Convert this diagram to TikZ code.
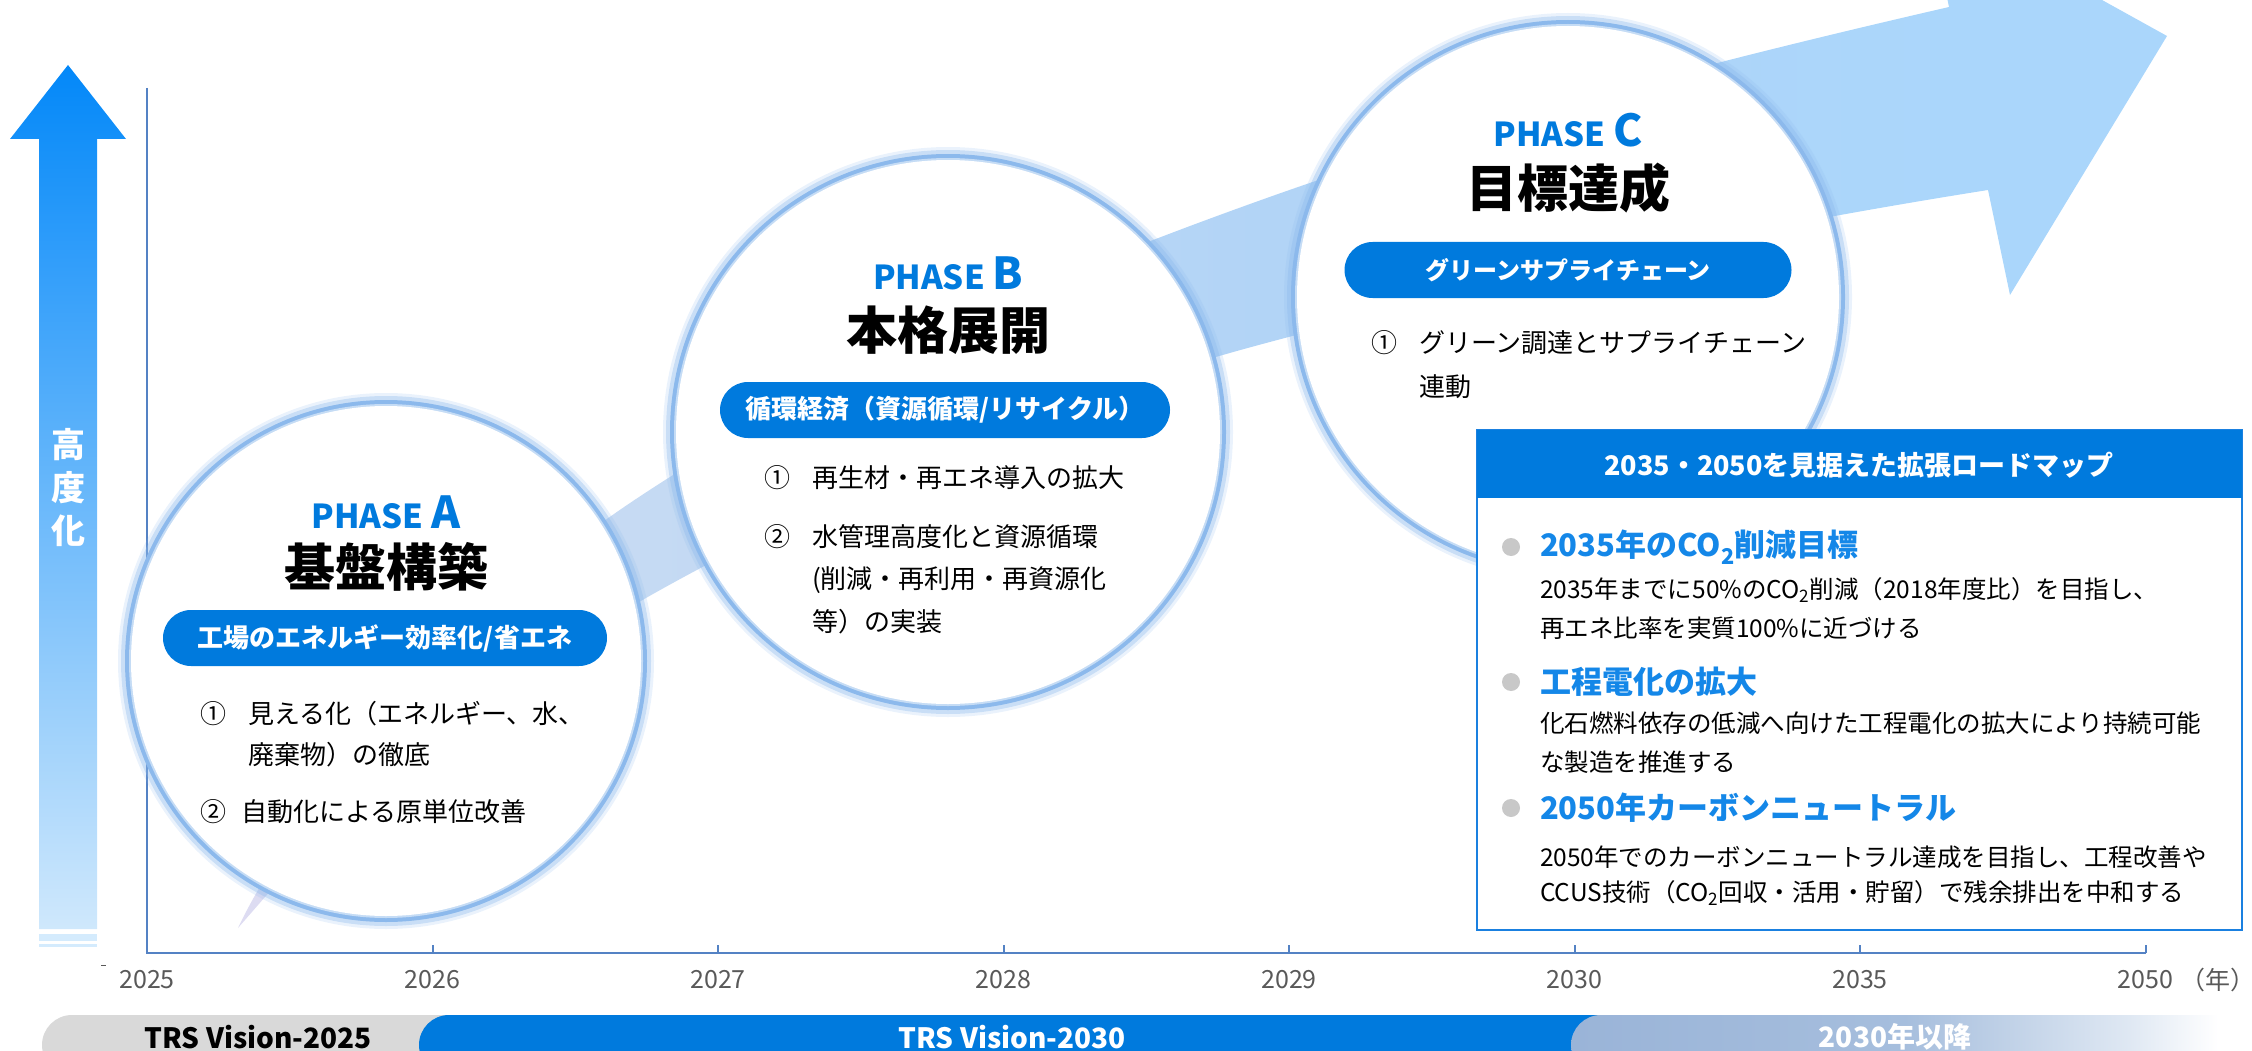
\documentclass[tikz,border=0pt]{standalone}
\usepackage{fontspec}
\setmainfont{Noto Sans CJK JP}
\newcommand\myfs[1]{\fontsize{#1}{#1}\selectfont}
\definecolor{mainblue}{RGB}{0,122,221}
\definecolor{headblue}{RGB}{20,135,232}
\definecolor{boxblue}{RGB}{26,128,224}
\definecolor{ringc}{RGB}{140,185,236}
\definecolor{axisc}{RGB}{84,130,196}
\definecolor{yeargray}{RGB}{89,89,89}
\definecolor{bs1}{RGB}{222,220,242}
\definecolor{bs2}{RGB}{198,218,243}
\definecolor{bs3}{RGB}{178,212,246}
\definecolor{bs4}{RGB}{170,214,251}
\definecolor{arrTop}{RGB}{3,136,249}
\definecolor{arrBot}{RGB}{207,232,252}
\definecolor{stripec}{RGB}{212,235,253}
\definecolor{barGray}{RGB}{217,217,217}
\definecolor{bulletgray}{RGB}{200,200,200}
\definecolor{fb1}{RGB}{154,180,216}
\definecolor{fb2}{RGB}{166,190,221}
\definecolor{fb3}{RGB}{223,232,243}
\pgfdeclarehorizontalshading{fadebar}{100bp}{color(0bp)=(fb1); color(25bp)=(fb1); color(49.5bp)=(fb2); color(66bp)=(fb3); color(72.5bp)=(white); color(100bp)=(white)}
\pgfdeclarehorizontalshading{bandshade}{100bp}{color(0bp)=(bs1); color(25bp)=(bs1); color(35bp)=(bs2); color(51.5bp)=(bs3); color(70bp)=(bs4); color(100bp)=(bs4)}
\newcommand\phasecircle[4]{%
  \fill[ringc, opacity=0.18] (#2,#3) circle[radius=#4pt+4pt];
  \fill[ringc, opacity=0.35] (#2,#3) circle[radius=#4pt+1pt];
  \fill[ringc] (#2,#3) circle[radius=#4pt-3pt];
  \fill[white, opacity=0.5] (#2,#3) circle[radius=#4pt-7pt];
  \fill[white] (#2,#3) circle[radius=#4pt-9pt];
  \coordinate (#1) at (#2,#3);
}
\tikzset{
  every node/.style={inner sep=0pt, outer sep=0pt},
  yearlbl/.style={text=yeargray, font=\myfs{25}},
  phaselbl/.style={text=mainblue, font=\bfseries\myfs{33}, anchor=base},
  titlelbl/.style={font=\bfseries\myfs{51}},
  pill/.style={fill=mainblue, rounded corners=28pt, minimum height=56pt, text=white, font=\bfseries\myfs{26}},
  item/.style={font=\myfs{26}, anchor=west},
  boxhead/.style={text=headblue, font=\bfseries\myfs{31}, anchor=west},
  boxbody/.style={font=\myfs{24.5}, anchor=west},
  barlbl/.style={font=\bfseries\myfs{28}},
}
\begin{document}
\begin{tikzpicture}[x=1pt,y=-1pt]
\useasboundingbox (0,0) rectangle (2252,1051);

% big rising band arrow
\shade[shading=bandshade]
  (238,928) .. controls (290,818) and (439,629) .. (639,497)
  .. controls (839,365) and (1050,276) .. (1250,204)
  .. controls (1480,121) and (1719,60) .. (1949,7)
  -- (1927,-97) -- (2167,36) -- (2010,295) -- (1988,190)
  .. controls (1748,228) and (1495,281) .. (1255,346)
  .. controls (1060,399) and (866,477) .. (671,584)
  .. controls (541,655) and (365,782) .. (265,897)
  -- cycle;

% vertical arrow
\shade[top color=arrTop, bottom color=arrBot]
  (39,929) -- (39,139) -- (10,139) -- (68,65) -- (126,139) -- (97,139) -- (97,929) -- cycle;
\fill[stripec] (39,934) rectangle (97,941);
\fill[stripec] (39,944) rectangle (97,947);
\node[text=white, font=\bfseries\fontsize{34}{43}\selectfont, align=center] (vtext) at (68,488) {高\\度\\化};

% axes
\coordinate (yTop) at (147,88);
\coordinate (org) at (147,953);
\coordinate (xEnd) at (2145.5,953);
\draw[axisc, line width=2.5pt] (yTop) -- (org) -- (xEnd);
\foreach \x in {432.5,718,1003.5,1289,1574.5,1860,2145.5}
  \draw[axisc, line width=2pt] (\x,953) -- (\x,945);
\draw[yeargray, line width=1pt] (101,965) -- (106,965);
\node[yearlbl] (y2025) at (147,980) {2025};
\node[yearlbl] (y2026) at (432.5,980) {2026};
\node[yearlbl] (y2027) at (718,980) {2027};
\node[yearlbl] (y2028) at (1003.5,980) {2028};
\node[yearlbl] (y2029) at (1289,980) {2029};
\node[yearlbl] (y2030) at (1574.5,980) {2030};
\node[yearlbl] (y2035) at (1860,980) {2035};
\node[yearlbl] (y2050) at (2145.5,980) {2050};
\node[yearlbl, anchor=west] (ynen) at (2180,980) {（年）\kern-0.5em};

% circles
\phasecircle{cA}{386}{661}{264}
\phasecircle{cB}{948}{432}{281}
\phasecircle{cC}{1568}{297}{280}

% phase A
\node[phaselbl] (phA) at (386,528) {PHASE {\myfs{44}A}};
\node[titlelbl] (tA) at (386,567) {基盤構築};
\node[pill, minimum width=444pt] (pA) at (385,638) {工場のエネルギー効率化/省エネ};
\node[item] (a1n) at (200,714) {①};
\node[item] (a1t) at (248,714) {見える化（エネルギー、水、};
\node[item] (a1u) at (248,755) {廃棄物）の徹底};
\node[item] (a2n) at (200,812) {②};
\node[item] (a2t) at (241,812) {自動化による原単位改善};

% phase B
\node[phaselbl] (phB) at (948,289) {PHASE {\myfs{44}B}};
\node[titlelbl] (tB) at (948,330) {本格展開};
\node[pill, minimum width=450pt] (pB) at (945,410) {循環経済（資源循環/リサイクル）};
\node[item] (b1n) at (764,478) {①};
\node[item] (b1t) at (812,478) {再生材・再エネ導入の拡大};
\node[item] (b2n) at (764,537) {②};
\node[item] (b2t) at (812,537) {水管理高度化と資源循環};
\node[item] (b2u) at (812,580) {(削減・再利用・再資源化};
\node[item] (b2v) at (812,622) {等）の実装};

% phase C
\node[phaselbl] (phC) at (1568,147) {PHASE {\myfs{44}C}};
\node[titlelbl] (tC) at (1568,188) {目標達成};
\node[pill, minimum width=447pt, font=\bfseries\myfs{24}] (pC) at (1568,270) {グリーンサプライチェーン};
\node[item] (c1n) at (1371,343) {①};
\node[item] (c1t) at (1419,343) {グリーン調達とサプライチェーン};
\node[item] (c1u) at (1419,387) {連動};

% roadmap box
\fill[white] (1477,430) rectangle (2242,930);
\draw[boxblue, line width=2.5pt] (1477,430) rectangle (2242,930);
\fill[mainblue] (1477,430) rectangle (2242,498);
\node[text=white, font=\bfseries\myfs{27}] (boxtitle) at (1859,465) {2035・2050を見据えた拡張ロードマップ};
\fill[bulletgray] (1511,547) circle[radius=9pt];
\fill[bulletgray] (1511,682) circle[radius=9pt];
\fill[bulletgray] (1511,808) circle[radius=9pt];
\node[boxhead] (h1) at (1540,547) {2035年のCO\textsubscript{2}削減目標};
\node[boxbody] (h1a) at (1540,590) {2035年までに50\%のCO\textsubscript{2}削減（2018年度比）を目指し、};
\node[boxbody] (h1b) at (1540,628) {再エネ比率を実質100\%に近づける};
\node[boxhead] (h2) at (1540,682) {工程電化の拡大};
\node[boxbody] (h2a) at (1540,723) {化石燃料依存の低減へ向けた工程電化の拡大により持続可能};
\node[boxbody] (h2b) at (1540,762) {な製造を推進する};
\node[boxhead] (h3) at (1540,808) {2050年カーボンニュートラル};
\node[boxbody] (h3a) at (1540,857) {2050年でのカーボンニュートラル達成を目指し、工程改善や};
\node[boxbody] (h3b) at (1540,893) {CCUS技術（CO\textsubscript{2}回収・活用・貯留）で残余排出を中和する};

% bottom bars
\fill[barGray, rounded corners=30pt] (42,1015) rectangle (560,1075);
\fill[mainblue, rounded corners=30pt] (419,1015) rectangle (1660,1075);
\shade[shading=fadebar, rounded corners=30pt] (1571,1015) rectangle (2252,1075);
\node[barlbl] (v2025) at (258,1037) {TRS Vision-2025};
\node[barlbl, text=white] (v2030) at (1012,1037) {TRS Vision-2030};
\node[barlbl, text=white] (vafter) at (1895,1037) {2030年以降};
\end{tikzpicture}
\end{document}
